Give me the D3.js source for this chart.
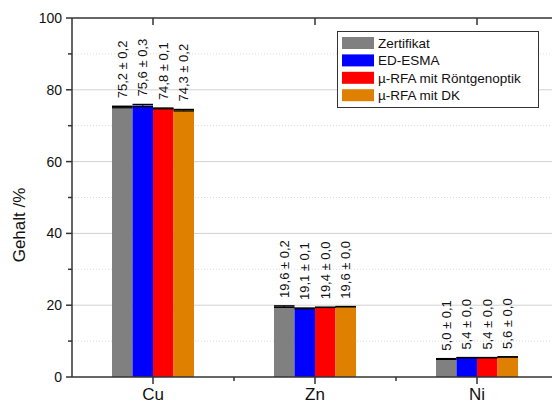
<!DOCTYPE html>
<html><head><meta charset="utf-8">
<script src="https://cdn.jsdelivr.net/npm/d3@7"></script>
<style>body{margin:0;background:#fff;}svg{display:block;font-family:Arial,"Liberation Sans",sans-serif;}</style>
</head><body>
<svg id="c" width="552" height="404"></svg>
<script>
const categories = ["Cu", "Zn", "Ni"];
const seriesNames = ["Zertifikat", "ED-ESMA", "µ-RFA mit Röntgenoptik", "µ-RFA mit DK"];
const seriesColors = ["#808080", "#0000ff", "#ff0000", "#e08000"];
const zertifikat = [75.2, 19.6, 5.0];
const edEsma = [75.6, 19.1, 5.4];
const rfaRoentgen = [74.8, 19.4, 5.4];
const rfaDK = [74.3, 19.6, 5.6];
const errZertifikat = [0.2, 0.2, 0.1];
const errEdEsma = [0.3, 0.1, 0.0];
const errRfaRoentgen = [0.1, 0.0, 0.0];
const errRfaDK = [0.2, 0.0, 0.0];
const yTicks = [0, 20, 40, 60, 80, 100];
const yMinorTicks = [10, 30, 50, 70, 90];

const values = [zertifikat, edEsma, rfaRoentgen, rfaDK];
const errors = [errZertifikat, errEdEsma, errRfaRoentgen, errRfaDK];
const fmt = v => v.toFixed(1).replace(".", ",");

const svg = d3.select("#c");
const L = 72, R = 558, T = 18, B = 377;
const x = d3.scaleLinear().domain([-0.5, 2.5]).range([L, R]);
const y = d3.scaleLinear().domain([0, 100]).range([B, T]);
const groupW = 82;
const xb = d3.scaleBand().domain(d3.range(4)).range([-groupW/2, groupW/2]).padding(0);

// grid
svg.append("g").selectAll("line").data(yTicks.filter(t => t > 0 && t < 100)).join("line")
  .attr("x1", L).attr("x2", R).attr("y1", d => y(d)).attr("y2", d => y(d))
  .attr("stroke", "#d2d2d2").attr("stroke-width", 1);
svg.append("g").selectAll("line").data(yMinorTicks).join("line")
  .attr("x1", L).attr("x2", R).attr("y1", d => y(d)).attr("y2", d => y(d))
  .attr("stroke", "#dcdcdc").attr("stroke-width", 1).attr("stroke-dasharray", "1,2");

// bars
const data = [];
categories.forEach((c, ci) => values.forEach((s, si) => data.push({ci, si, v: s[ci], e: errors[si][ci]})));
const bx = d => x(d.ci) + xb(d.si);
svg.append("g").selectAll("rect").data(data).join("rect")
  .attr("x", bx).attr("width", xb.bandwidth())
  .attr("y", d => y(d.v)).attr("height", d => B - y(d.v))
  .attr("fill", d => seriesColors[d.si]);

// error bars
const eg = svg.append("g").attr("stroke", "#000").attr("fill", "none");
data.forEach(d => {
  const x0 = bx(d), x1 = x0 + xb.bandwidth(), xc = (x0 + x1) / 2;
  eg.append("line").attr("x1", x0).attr("x2", x1).attr("y1", y(d.v + d.e)).attr("y2", y(d.v + d.e)).attr("stroke-width", 1.5);
  eg.append("line").attr("x1", x0).attr("x2", x1).attr("y1", y(d.v - d.e)).attr("y2", y(d.v - d.e)).attr("stroke-width", 1.2);
  eg.append("line").attr("x1", xc).attr("x2", xc).attr("y1", y(d.v + d.e)).attr("y2", y(d.v - d.e)).attr("stroke-width", 1);
});

// value labels
svg.append("g").selectAll("text").data(data).join("text")
  .attr("transform", d => `translate(${bx(d) + xb.bandwidth()/2 + 4.5},${y(d.v + d.e) - 8}) rotate(-90)`)
  .attr("font-size", 13).attr("fill", "#111")
  .text(d => `${fmt(d.v)} ± ${fmt(d.e)}`);

// axes
const ax = svg.append("g").attr("stroke", "#333").attr("fill", "none");
ax.append("line").attr("x1", L).attr("x2", R).attr("y1", B).attr("y2", B).attr("stroke-width", 1.5);
ax.append("line").attr("x1", L).attr("x2", R).attr("y1", T).attr("y2", T).attr("stroke-width", 1.5);
ax.append("line").attr("x1", L).attr("x2", L).attr("y1", T).attr("y2", B).attr("stroke-width", 1.5);
ax.append("line").attr("x1", R).attr("x2", R).attr("y1", T).attr("y2", B).attr("stroke-width", 1.5);
yTicks.forEach(t => {
  ax.append("line").attr("x1", L - 6).attr("x2", L).attr("y1", y(t)).attr("y2", y(t)).attr("stroke-width", 1.5);
  ax.append("line").attr("x1", R - 6).attr("x2", R).attr("y1", y(t)).attr("y2", y(t)).attr("stroke-width", 1.5);
});
yMinorTicks.forEach(t => {
  ax.append("line").attr("x1", L - 4).attr("x2", L).attr("y1", y(t)).attr("y2", y(t)).attr("stroke-width", 1.5);
});
categories.forEach((c, i) => {
  ax.append("line").attr("x1", x(i)).attr("x2", x(i)).attr("y1", B).attr("y2", B + 7).attr("stroke-width", 1.5);
  ax.append("line").attr("x1", x(i)).attr("x2", x(i)).attr("y1", T).attr("y2", T + 7).attr("stroke-width", 1.5);
});
[0.5, 1.5].forEach(v => {
  ax.append("line").attr("x1", x(v)).attr("x2", x(v)).attr("y1", B).attr("y2", B + 4).attr("stroke-width", 1.5);
});

svg.append("g").selectAll("text").data(yTicks).join("text")
  .attr("x", L - 10).attr("y", d => y(d) + 5).attr("text-anchor", "end")
  .attr("font-size", 14).attr("fill", "#111").text(d => d);
svg.append("g").selectAll("text").data(categories).join("text")
  .attr("x", (d, i) => x(i)).attr("y", 400).attr("text-anchor", "middle")
  .attr("font-size", 17).attr("fill", "#111").text(d => d);
svg.append("text").attr("transform", "translate(25,225) rotate(-90)").attr("text-anchor", "middle")
  .attr("font-size", 17).attr("fill", "#111").text("Gehalt /%");

// legend
const lg = svg.append("g");
lg.append("rect").attr("x", 337.5).attr("y", 31.5).attr("width", 201).attr("height", 76)
  .attr("fill", "#fff").attr("stroke", "#333").attr("stroke-width", 1);
seriesNames.forEach((n, i) => {
  const cy = 43 + i * 17.4;
  lg.append("rect").attr("x", 342).attr("y", cy - 6).attr("width", 32).attr("height", 12).attr("fill", seriesColors[i]);
  lg.append("text").attr("x", 378).attr("y", cy + 5).attr("font-size", 13.5).attr("fill", "#111").text(n);
});
</script>
</body></html>
